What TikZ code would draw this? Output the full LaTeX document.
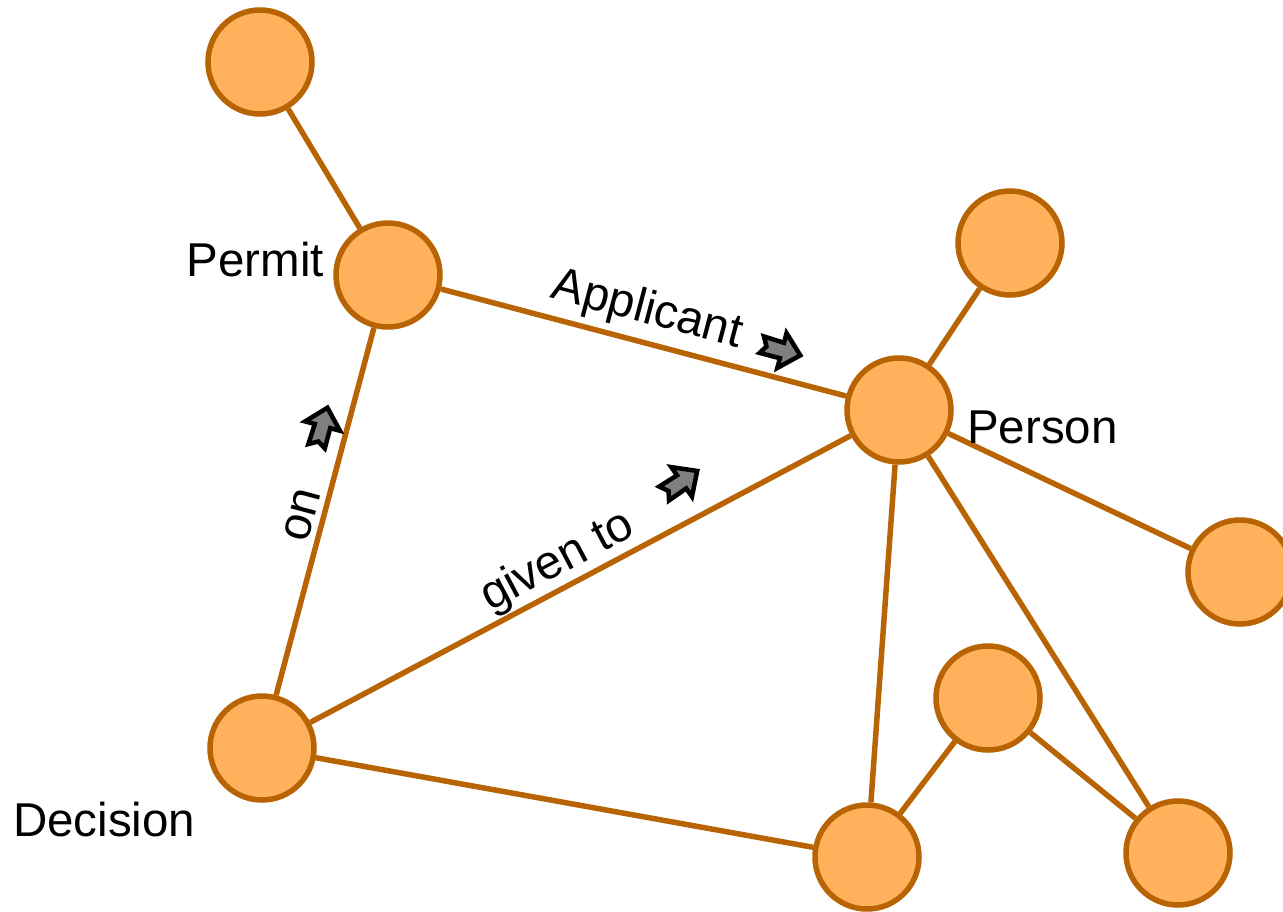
\documentclass[tikz,border=0pt]{standalone}
\usepackage{fontspec}
\setmainfont{Liberation Sans}
\definecolor{nodefill}{HTML}{FFB25B}
\definecolor{nodeline}{HTML}{B86404}
\definecolor{arrowgray}{HTML}{7F7F7F}
\begin{document}
\begin{tikzpicture}[x=1pt,y=-1pt,
  vertex/.style={circle,draw=nodeline,fill=nodefill,line width=5.5pt,minimum size=104pt,inner sep=0pt},
  link/.style={draw=nodeline,line width=5.5pt},
  lbl/.style={font=\fontsize{47.5}{56}\selectfont,inner sep=0pt,text=black},
  pics/blockarrow/.style={code={
    \filldraw[fill=arrowgray,draw=black,line width=4.5pt,line join=miter]
      (21,0) -- (2,-18) -- (2,-8) -- (-19,-9) -- (-14,0) -- (-19,8) -- (2,8) -- (2,18) -- cycle;}}]
\useasboundingbox (0,0) rectangle (1283,911);
\clip (0,0) rectangle (1283,911);

% nodes
\node[vertex] (top)     at (260,62)  {};
\node[vertex] (permit)  at (388,275) {};
\node[vertex] (topr)    at (1010,243) {};
\node[vertex] (person)  at (899,410) {};
\node[vertex] (right)   at (1240,572) {};
\node[vertex] (decision) at (262,748) {};
\node[vertex] (midr)    at (988,698) {};
\node[vertex] (botc)    at (867,857) {};
\node[vertex] (botr)    at (1178,853) {};

% connectors
\draw[link] (top) -- (permit);
\draw[link] (permit) -- (person);
\draw[link] (permit) -- (decision);
\draw[link] (decision) -- (person);
\draw[link] (decision) -- (botc);
\draw[link] (person) -- (topr);
\draw[link] (person) -- (right);
\draw[link] (person) -- (botc);
\draw[link] (person) -- (botr);
\draw[link] (midr) -- (botc);
\draw[link] (midr) -- (botr);

% node labels
\node[lbl,anchor=east] (tpermit) at (324,260) {Permit};
\node[lbl,anchor=west] (tperson) at (967,427) {Person};
\node[lbl,anchor=west] (tdecision) at (13,820) {Decision};

% connector labels
\node[lbl,rotate=-14.8] (tapp) at (647,311) {Applicant};
\node[lbl,rotate=75] (ton) at (302,515) {on};
\node[lbl,rotate=27.9] (tgiven) at (558,562) {given to};

% direction markers
\pic[rotate=-14.8] at (780,350) {blockarrow};
\pic[rotate=75] at (322,428) {blockarrow};
\pic[rotate=35] at (680,483) {blockarrow};
\end{tikzpicture}
\end{document}
